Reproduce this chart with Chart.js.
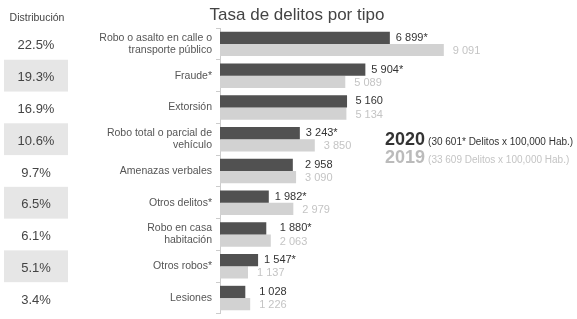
<!DOCTYPE html>
<html>
<head>
<meta charset="utf-8">
<script src="https://cdn.jsdelivr.net/npm/chart.js@4"></script>
<style>
  html, body { margin: 0; padding: 0; background: #fff; overflow: hidden; }
  body { width: 577px; height: 319px; position: relative; font-family: "Liberation Sans", Arial, sans-serif; }
  .wrap { position: absolute; left: 0; top: 0; width: 577px; height: 330px; }
  .title { position: absolute; left: 0; width: 594px; top: 5px; text-align: center; font-size: 17px; color: #444; }
  .head { position: absolute; left: 0; width: 74px; top: 11px; text-align: center; font-size: 10.5px; color: #444; }
  .leg { position: absolute; left: 385px; white-space: nowrap; }
  .leg b { font-size: 18px; font-weight: bold; margin-right: 3px; }
  .leg span { font-size: 10px; }
  .l20 { top: 129px; color: #333; }
  .l19 { top: 147px; color: #bbb; }
  .l19 span { color: #c4c4c4; }
</style>
</head>
<body>
<div class="wrap"><canvas id="chart"></canvas></div>
<div class="title">Tasa de delitos por tipo</div>
<div class="head">Distribución</div>
<div class="leg l20"><b>2020</b><span>(30 601* Delitos x 100,000 Hab.)</span></div>
<div class="leg l19"><b>2019</b><span>(33 609 Delitos x 100,000 Hab.)</span></div>
<script>
document.addEventListener('DOMContentLoaded', function() {
    // data
    const categories = [
        ['Robo o asalto en calle o', 'transporte público'],
        'Fraude*',
        'Extorsión',
        ['Robo total o parcial de', 'vehículo'],
        'Amenazas verbales',
        'Otros delitos*',
        ['Robo en casa', 'habitación'],
        'Otros robos*',
        'Lesiones'
    ];
    const values2020 = [6899, 5904, 5160, 3243, 2958, 1982, 1880, 1547, 1028];
    const starred2020 = [true, true, false, true, false, true, true, true, false];
    const values2019 = [9091, 5089, 5134, 3850, 3090, 2979, 2063, 1137, 1226];
    const shares = [22.5, 19.3, 16.9, 10.6, 9.7, 6.5, 6.1, 5.1, 3.4];

    const fmt = n => String(n).replace(/\B(?=(\d{3})+(?!\d))/g, ' ');
    const FONT = '"Liberation Sans", Arial, sans-serif';

    // percentages column + value labels
    const extras = {
        id: 'extras',
        afterDatasetsDraw(chart) {
            const ctx = chart.ctx, y = chart.scales.y;
            const dark = chart.getDatasetMeta(0).data, light = chart.getDatasetMeta(1).data;
            ctx.save();
            ctx.textBaseline = 'middle';
            shares.forEach((s, i) => {
                const top = y.getPixelForValue(i - 0.5), bot = y.getPixelForValue(i + 0.5);
                if (i % 2 === 1) {
                    ctx.fillStyle = '#e6e6e6';
                    ctx.fillRect(4, top, 64, bot - top);
                }
                ctx.fillStyle = '#444';
                ctx.font = '13px ' + FONT;
                ctx.textAlign = 'center';
                ctx.fillText(s.toFixed(1) + '%', 36, (top + bot) / 2 + 2);
            });
            ctx.textAlign = 'left';
            ctx.font = '11px ' + FONT;
            dark.forEach((bar, i) => {
                const lb = light[i];
                let x = bar.x + 6;
                if (lb.x > bar.x - 5 && lb.x < bar.x + 10) x = lb.x + 9;
                ctx.fillStyle = '#333';
                ctx.fillText(fmt(values2020[i]) + (starred2020[i] ? '*' : ''), x, bar.y);
                ctx.fillStyle = '#c4c4c4';
                ctx.fillText(fmt(values2019[i]), lb.x + 9, lb.y + 1);
            });
            ctx.restore();
        }
    };

    new Chart(document.getElementById('chart'), {
        type: 'bar',
        data: {
            labels: categories,
            datasets: [
                { label: '2020', data: values2020, backgroundColor: '#515151', categoryPercentage: 0.77, barPercentage: 1 },
                { label: '2019', data: values2019, backgroundColor: '#d2d2d2', categoryPercentage: 0.77, barPercentage: 1 }
            ]
        },
        options: {
            indexAxis: 'y',
            responsive: true,
            maintainAspectRatio: false,
            animation: false,
            layout: { padding: { top: 28, bottom: 9, left: 0, right: 0 } },
            plugins: { legend: { display: false }, tooltip: { enabled: false } },
            scales: {
                x: { display: false, min: 0, max: 14500 },
                y: {
                    afterFit: s => { s.width = 220; },
                    border: { color: '#ccc' },
                    grid: { drawOnChartArea: false, color: '#ccc', tickLength: 4 },
                    ticks: { color: '#555', font: { family: FONT, size: 10.5, lineHeight: 1.15 }, padding: 4 }
                }
            }
        },
        plugins: [extras]
    });
});
</script>
</body>
</html>
